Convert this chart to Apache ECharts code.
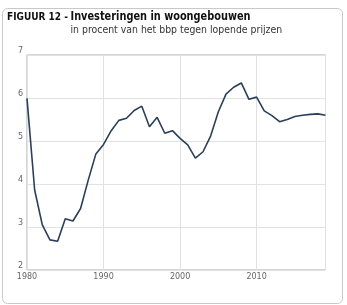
<!DOCTYPE html>
<html><head><meta charset="utf-8">
<script src="https://cdn.jsdelivr.net/npm/echarts@6/dist/echarts.min.js"></script>
<style>html,body{margin:0;padding:0;background:#fff}#c{width:347px;height:305px}</style>
</head><body><div id="c"></div>
<script>
const years = [1980,1981,1982,1983,1984,1985,1986,1987,1988,1989,1990,1991,1992,1993,1994,1995,1996,1997,1998,1999,2000,2001,2002,2003,2004,2005,2006,2007,2008,2009,2010,2011,2012,2013,2014,2015,2016,2017,2018,2019];
const values = [5.99,3.86,3.05,2.70,2.67,3.19,3.14,3.43,4.09,4.70,4.92,5.24,5.48,5.53,5.71,5.81,5.33,5.55,5.18,5.24,5.06,4.91,4.60,4.75,5.12,5.68,6.09,6.25,6.35,5.97,6.02,5.70,5.59,5.45,5.50,5.57,5.60,5.62,5.63,5.60];
const titlePrefix = 'FIGUUR 12 - ';
const titleMain = 'Investeringen in woongebouwen';
const subtitle = 'in procent van het bbp tegen lopende prijzen';

const chart = echarts.init(document.getElementById('c'), null, {renderer:'canvas'});
chart.setOption({
  animation:false,
  graphic:[
    {type:'rect', shape:{x:2.5,y:8.5,width:340,height:295,r:5}, style:{fill:'none',stroke:'#c8c8c8',lineWidth:1}},
    {type:'text', x:7, y:12, style:{text:titlePrefix, font:'bold 10px "DejaVu Sans Condensed", "DejaVu Sans", sans-serif', fill:'#111', verticalAlign:'top'}},
    {type:'text', x:70.5, y:10, scaleX:0.87, originX:0, originY:0, style:{text:titleMain, font:'bold 12.5px "DejaVu Sans Condensed", "DejaVu Sans", sans-serif', fill:'#111', verticalAlign:'top'}},
    {type:'text', x:70.5, y:25.5, scaleX:0.935, originX:0, originY:0, style:{text:subtitle, font:'10px "DejaVu Sans", sans-serif', fill:'#333', verticalAlign:'top'}}
  ],
  grid:{left:27, right:21.5, top:55, bottom:35, show:true, borderColor:'#aaa', borderWidth:1, containLabel:false},
  xAxis:{type:'value', min:1980, max:2019, interval:10,
    axisLine:{show:false}, axisTick:{show:false},
    axisLabel:{color:'#666', fontSize:8, fontFamily:'DejaVu Sans', margin:3, showMaxLabel:false, formatter:v=>String(v)},
    splitLine:{show:true, lineStyle:{color:'#e2e2e2', width:1}}},
  yAxis:{type:'value', min:2, max:7, interval:1,
    axisLine:{show:false}, axisTick:{show:false},
    axisLabel:{color:'#666', fontSize:8, fontFamily:'DejaVu Sans', margin:4, verticalAlign:'bottom'},
    splitLine:{show:true, lineStyle:{color:'#e2e2e2', width:1}}},
  series:[{type:'line', data:years.map((y,i)=>[y,values[i]]), symbol:'none',
    lineStyle:{color:'#2b3f58', width:1.6}}]
});
</script></body></html>
